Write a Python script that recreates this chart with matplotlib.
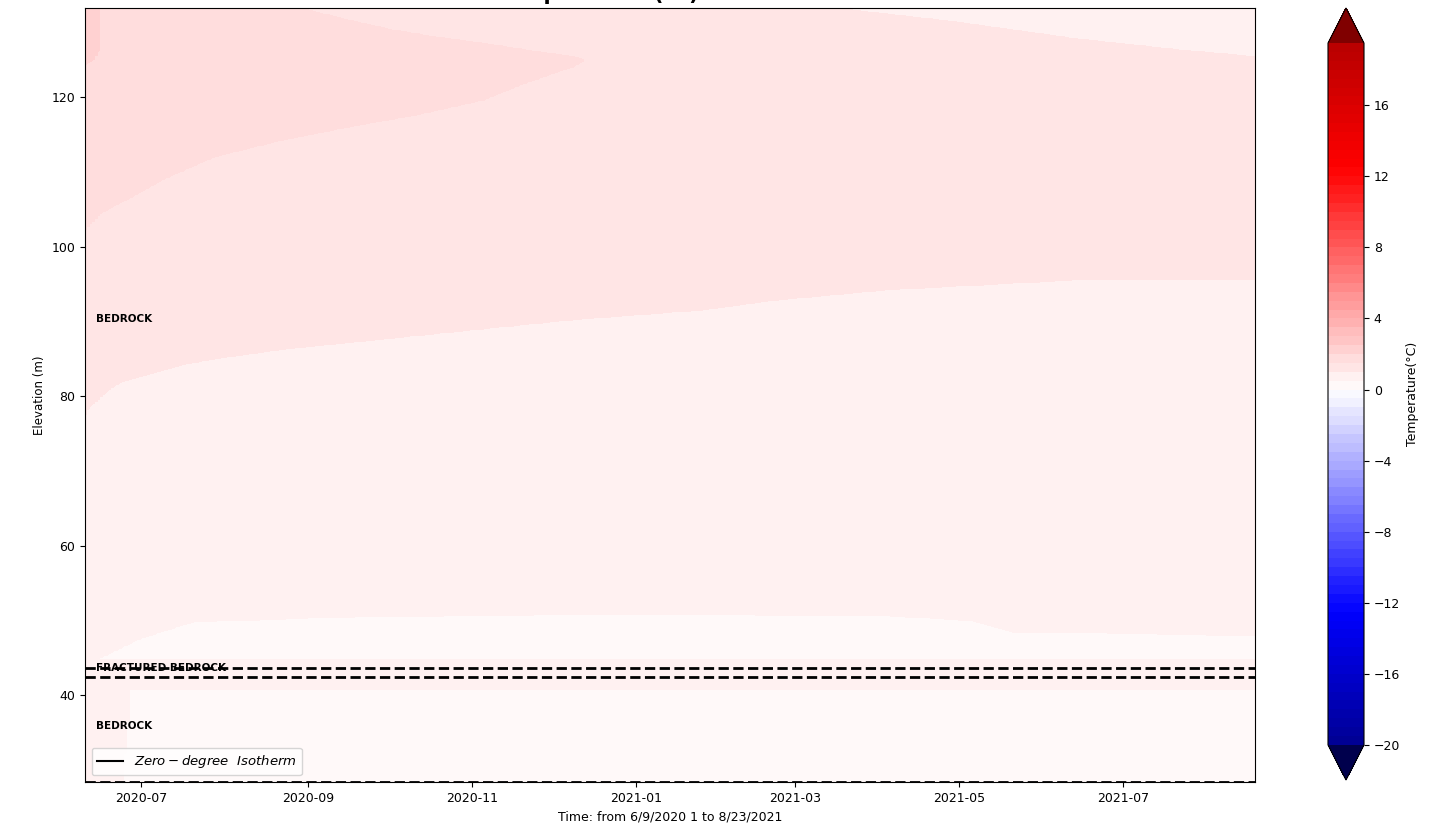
import numpy as np
import matplotlib
matplotlib.use("Agg")
from matplotlib import pyplot as plt
from matplotlib.lines import Line2D

# time axis: days after 2020-06-10
start = np.datetime64("2020-06-10")
n_days = 436
elev_min, elev_max = 28.4, 131.9

# zone temperatures (degC)
T_cold = 0.25
T_light = 0.75
T_mid = 1.25
T_warm = 1.75
T_hot = 2.25

# boundary between mid (above) and light (below) zone
warm_bot_days = [0, 1, 10, 15, 35, 48, 72, 110, 181, 229, 258, 297, 366, 435]
warm_bot_elev = [77.5, 78.3, 81.2, 82.1, 84.1, 85.0, 86.2, 87.6, 90.2, 91.5, 92.9, 94.2, 95.5, 95.6]

# warm tongue in the upper left
tongue_bot_days = [0, 6, 15, 31, 48, 73, 98, 123, 148, 164, 181, 186]
tongue_bot_elev = [102.3, 104.5, 106.2, 109.3, 112.0, 114.2, 116.0, 117.6, 119.6, 121.9, 124.0, 125.0]
tongue_top_days = [0, 80, 98, 114, 131, 148, 164, 181, 186]
tongue_top_elev = [140.0, 131.9, 130.3, 129.0, 128.0, 127.2, 126.3, 125.4, 125.0]

# hot strip at the very start near the top
strip_days = [0, 3, 5.5]
strip_bot_elev = [124.3, 125.0, 126.5]

# cooler wedge in the upper right
topright_days = [280, 286, 325, 366, 407, 435]
topright_elev = [132.5, 131.6, 130.0, 127.9, 126.3, 125.4]

# near-zero zones around the fractured bedrock
cold1_days = [0, 20, 40, 100, 200, 300, 330, 345, 435]
cold1_top = [44.0, 47.5, 49.8, 50.5, 50.8, 50.6, 50.0, 48.5, 48.0]
cold1_bot = 44.8
cold2_days = [0, 14, 17, 435]
cold2_top = [28.0, 28.0, 40.8, 40.8]

layer_lines = [43.6, 42.4, 28.4]
layer_labels = ["BEDROCK", "FRACTURED BEDROCK", "BEDROCK"]
label_elev = [90.3, 43.6, 35.9]

cbar_ticks = [-20, -16, -12, -8, -4, 0, 4, 8, 12, 16]

days = np.arange(n_days)
elevs = np.arange(elev_min, 132.05, 0.1)
times = start + days.astype("timedelta64[D]")
D = days[None, :]
E = elevs[:, None]

T = np.full((len(elevs), len(days)), T_light)
T[E > np.interp(days, warm_bot_days, warm_bot_elev)[None, :]] = T_mid
tb = np.interp(days, tongue_bot_days, tongue_bot_elev)[None, :]
tt = np.interp(days, tongue_top_days, tongue_top_elev)[None, :]
T[(D <= 186) & (E > tb) & (E < tt)] = T_warm
sb = np.interp(days, strip_days, strip_bot_elev, right=200)[None, :]
T[E > sb] = T_hot
trb = np.interp(days, topright_days, topright_elev, left=200)[None, :]
T[E > trb] = T_light
c1 = np.interp(days, cold1_days, cold1_top)[None, :]
T[(E > cold1_bot) & (E < c1)] = T_cold
c2 = np.interp(days, cold2_days, cold2_top)[None, :]
T[E < c2] = T_cold

fig = plt.figure(figsize=(14.54, 8.32), dpi=100)
ax = fig.add_axes([85 / 1454, 1 - 782 / 832, 1170 / 1454, 774 / 832])
cax = fig.add_axes([1328 / 1454, 1 - 780 / 832, 36 / 1454, 772 / 832])

levels = np.arange(-20, 20, 0.5)
cs = ax.contourf(times, elevs, T, levels=levels, cmap="seismic", vmin=-25, vmax=25, extend="both")
ax.contour(times, elevs, T, levels=[0], colors="k", linewidths=1.5)

for yl in layer_lines:
    ax.axhline(yl, color="k", linestyle="--", linewidth=2)
for lab, ye in zip(layer_labels, label_elev):
    ax.text(start + np.timedelta64(4, "D"), ye, lab, fontsize=7.5, fontweight="bold", va="center", ha="left")

ax.set_xlim(times[0], np.datetime64("2021-08-19"))
ax.set_ylim(elev_min, elev_max)
ax.set_xlabel("Time: from 6/9/2020 1 to 8/23/2021", fontsize=9)
ax.set_ylabel("Elevation (m)", fontsize=8.5)
ax.tick_params(labelsize=9)
ax.set_title("Temperature (°C)", fontsize=15, fontweight="bold", x=0.438)

ax.legend(handles=[Line2D([], [], color="k", linewidth=1.5)], labels=[r"$Zero-degree\ \ Isotherm$"],
          loc="lower left", fontsize=9.5)

cb = fig.colorbar(cs, cax=cax, ticks=cbar_ticks)
cb.set_label("Temperature(°C)", fontsize=9)
cb.ax.tick_params(labelsize=9)

fig.savefig("out.png", dpi=100)
